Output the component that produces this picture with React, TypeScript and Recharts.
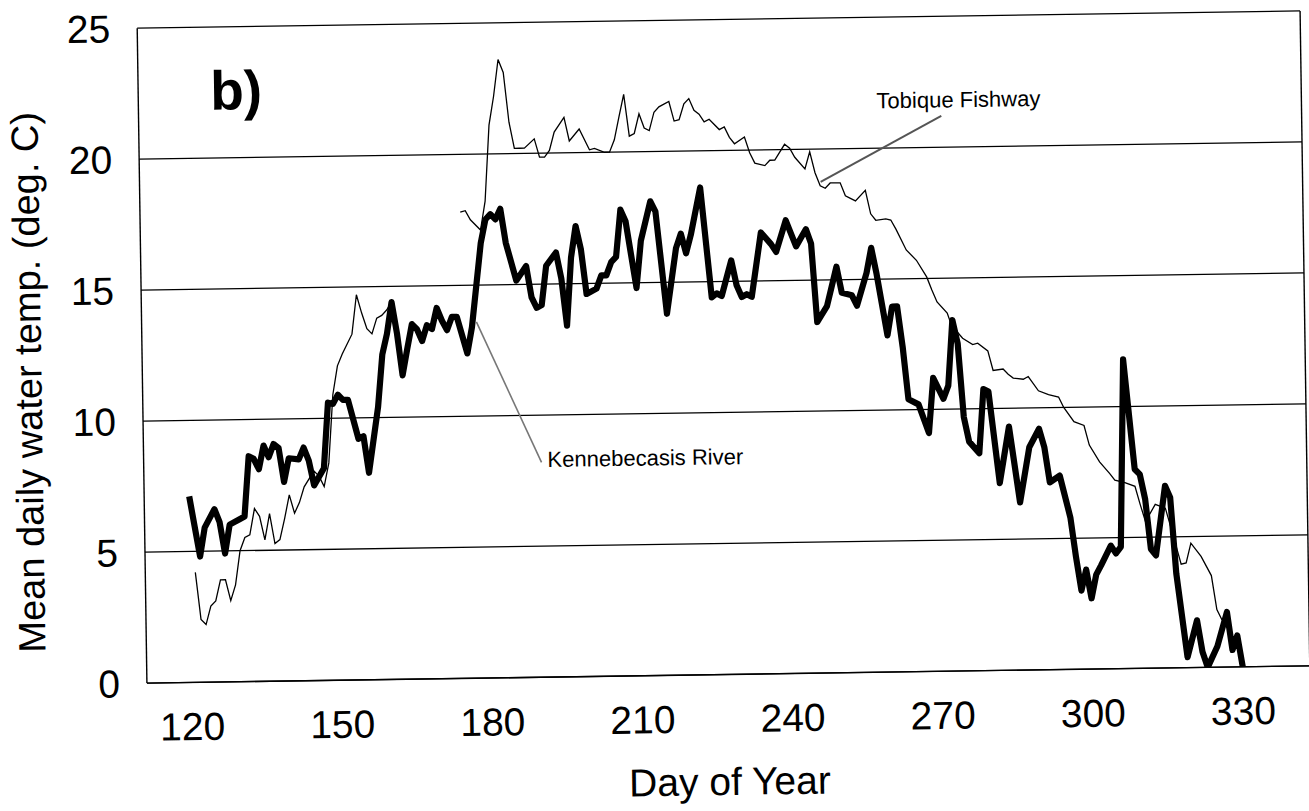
import React from 'react';
import {
  LineChart,
  Line,
  XAxis,
  YAxis,
  CartesianGrid,
  ReferenceLine,
  ReferenceDot,
  Label,
} from 'recharts';

// Kennebecasis River: mean daily water temperature (deg. C) by day of year
const kennebecasisDays = [
  120, 122, 123, 125, 126, 127, 128, 130, 131, 132, 133, 134, 135, 136, 137, 138, 139, 140, 142, 143,
  144, 145, 147, 148, 149, 150, 151, 152, 154, 155, 156, 158, 159, 160, 161, 162, 163, 164, 165, 166,
  167, 168, 169, 170, 171, 172, 173, 174, 176, 177, 178, 179, 180, 181, 182, 183, 184, 186, 188, 189,
  190, 191, 192, 194, 195, 196, 197, 198, 199, 200, 202, 203, 204, 205, 206, 207, 208, 210, 211, 213,
  214, 216, 218, 219, 220, 221, 223, 225, 226, 227, 229, 230, 231, 232, 233, 235, 237, 238, 240, 242,
  244, 245, 246, 248, 250, 251, 253, 254, 256, 257, 258, 260, 261, 262, 263, 264, 266, 268, 269, 271,
  272, 273, 274, 275, 276, 278, 279, 280, 282, 284, 286, 288, 290, 291, 292, 294, 296, 297, 298, 299,
  300, 301, 302, 304, 305, 306, 307, 309, 310, 311, 312, 313, 315, 316, 317, 319, 321, 322, 323, 325,
  327, 328, 329, 330,
];
const kennebecasisTemps = [
  7.1, 4.8, 5.9, 6.6, 6.1, 4.9, 6.0, 6.2, 6.3, 8.6, 8.5, 8.1, 9.0, 8.55, 9.05, 8.9, 7.6, 8.5, 8.45, 8.9,
  8.4, 7.45, 8.1, 10.6, 10.55, 10.9, 10.7, 10.7, 9.2, 9.3, 7.9, 10.4, 12.4, 13.2, 14.4, 13.2, 11.6, 12.6, 13.55, 13.35,
  12.9, 13.5, 13.35, 14.15, 13.67, 13.3, 13.8, 13.8, 12.4, 13.4, 15.0, 16.6, 17.5, 17.7, 17.5, 17.9, 16.6, 15.15, 15.7, 14.5,
  14.1, 14.2, 15.7, 16.2, 15.2, 13.4, 16.0, 17.2, 16.3, 14.6, 14.8, 15.3, 15.3, 15.8, 16.0, 17.8, 17.35, 14.8, 16.6, 18.1,
  17.7, 13.8, 16.3, 16.85, 16.1, 16.8, 18.6, 14.4, 14.55, 14.45, 15.8, 14.85, 14.4, 14.5, 14.4, 16.85, 16.4, 16.1, 17.3, 16.3,
  16.95, 16.4, 13.4, 14.0, 15.5, 14.5, 14.4, 14.0, 15.25, 16.2, 15.2, 12.85, 13.95, 13.95, 12.4, 10.4, 10.2, 9.1, 11.2, 10.4,
  10.9, 13.4, 12.5, 9.7, 8.75, 8.3, 10.75, 10.65, 7.15, 9.3, 6.4, 8.5, 9.2, 8.5, 7.15, 7.4, 5.8, 4.3, 3.0, 3.8,
  2.7, 3.6, 3.95, 4.7, 4.4, 4.65, 11.8, 7.6, 7.4, 6.45, 4.55, 4.3, 6.95, 6.5, 3.6, 0.4, 1.8, 0.6, 0, 0.8,
  2.1, 0.65, 1.2, 0,
];

// Tobique Fishway: mean daily water temperature (deg. C); null marks the gap in the record
const tobiqueDays = [
  121, 122, 123, 124, 125, 126, 127, 128, 129, 130, 131, 132, 133, 134, 135, 136, 137, 138, 139, 140,
  141, 142, 143, 144, 145, 146, 147, 148, 149, 150, 151, 153, 154, 155, 156, 157, 158, 159, 160, 161,
  168, 175, 176, 177, 179, 180, 181, 182, 183, 184, 185, 186, 187, 188, 190, 191, 192, 193, 194, 196,
  197, 199, 201, 202, 204, 205, 206, 207, 208, 209, 210, 211, 212, 213, 214, 215, 217, 218, 219, 220,
  221, 222, 223, 224, 225, 227, 228, 229, 230, 232, 233, 234, 236, 237, 238, 240, 241, 242, 244, 245,
  246, 247, 248, 249, 251, 252, 253, 254, 256, 257, 258, 260, 261, 262, 264, 266, 268, 269, 270, 272,
  273, 274, 275, 277, 278, 280, 281, 283, 284, 285, 287, 288, 290, 292, 294, 295, 297, 299, 300, 302,
  304, 305, 307, 309, 310, 311, 313, 315, 316, 318, 319, 320, 322, 324, 325, 326,
];
const tobiqueTemps = [
  4.2, 2.4, 2.2, 2.9, 3.1, 3.9, 3.9, 3.1, 3.7, 5.0, 5.5, 5.6, 6.6, 6.3, 5.4, 6.4, 5.25, 5.4, 6.2, 7.1,
  6.4, 6.8, 7.4, 7.7, 8.0, 7.8, 7.4, 8.3, 10.9, 12.0, 12.45, 13.2, 14.7, 14.0, 13.4, 13.2, 13.8, 13.9, 14.1, 14.4,
  null, 17.8, 17.85, 17.5, 17.1, 18.2, 21.1, 22.2, 23.6, 23.1, 21.2, 20.2, 20.2, 20.2, 20.55, 19.85, 19.85, 20.1, 20.8, 21.35,
  20.45, 20.9, 20.1, 20.15, 20.0, 20.0, 20.47, 21.35, 22.2, 20.6, 20.7, 21.45, 20.9, 20.8, 21.5, 21.7, 21.9, 21.15, 21.2, 21.8,
  22.0, 21.55, 21.4, 21.1, 21.2, 20.8, 20.9, 20.5, 20.25, 20.5, 19.9, 19.5, 19.4, 19.6, 19.6, 20.2, 20.05, 19.7, 19.25, 19.9,
  19.1, 18.6, 18.5, 18.7, 18.7, 18.2, 18.1, 18.0, 18.4, 17.5, 17.25, 17.3, 17.25, 16.9, 16.1, 15.7, 15.06, 14.56, 14.1, 13.67,
  13.1, 12.93, 12.7, 12.45, 12.5, 12.2, 11.45, 11.5, 11.3, 11.15, 11.1, 11.2, 10.65, 10.5, 10.4, 10.0, 9.45, 9.3, 8.55, 7.9,
  7.45, 7.2, 7.1, 6.95, 6.25, 5.6, 6.25, 6.1, 5.4, 3.95, 4.0, 4.75, 4.24, 3.5, 2.2, 1.8,
];

const dayTicks = [120, 150, 180, 210, 240, 270, 300, 330];
const tempTicks = [0, 5, 10, 15, 20, 25];
const dayDomain = [111, 343.4];
const tempDomain = [0, 25];

const kennebecasis = kennebecasisDays.map((day, i) => ({ day, temp: kennebecasisTemps[i] }));
const tobique = tobiqueDays.map((day, i) => ({ day, temp: tobiqueTemps[i] }));

const FONT = '"Liberation Sans", Arial, Helvetica, sans-serif';
const INK = '#000';

const XTitle = (props: any) => {
  const { viewBox } = props;
  return (
    <text
      x={viewBox.x + viewBox.width / 2}
      y={viewBox.y + 120.5}
      textAnchor="middle"
      fontFamily={FONT}
      fontSize={39}
      fill={INK}
    >
      Day of Year
    </text>
  );
};

const YTitle = (props: any) => {
  const { viewBox } = props;
  const cx = 41;
  const cy = viewBox.y + viewBox.height / 2 + 25;
  return (
    <text
      x={cx}
      y={cy}
      transform={`rotate(-90 ${cx} ${cy})`}
      textAnchor="middle"
      fontFamily={FONT}
      fontSize={38}
      fill={INK}
    >
      Mean daily water temp. (deg. C)
    </text>
  );
};

// text placed with its left baseline at the data point
const note = (text: string, size: number, weight: string | number = 'normal') => (p: any) => (
  <text x={p.cx} y={p.cy} fontFamily={FONT} fontSize={size} fontWeight={weight} fill={INK}>
    {text}
  </text>
);

export default function App() {
  return (
    <div
      style={{
        position: 'absolute',
        left: 0,
        top: 0,
        width: 1309,
        height: 811,
        overflow: 'hidden',
        background: '#fff',
      }}
    >
      <div style={{ transform: 'rotate(-0.85deg)', transformOrigin: '723px 347px' }}>
        <LineChart
          width={1309}
          height={811}
          margin={{ top: 19.5, right: 4, bottom: 96.5, left: 0 }}
        >
          <CartesianGrid horizontal vertical={false} stroke={INK} strokeWidth={1.3} />
          <XAxis
            type="number"
            dataKey="day"
            domain={dayDomain}
            allowDataOverflow
            ticks={dayTicks}
            interval={0}
            height={40}
            tickLine={false}
            tickSize={0}
            tickMargin={30}
            axisLine={{ stroke: INK, strokeWidth: 1.4 }}
            tick={{ fill: INK, fontSize: 39, fontFamily: FONT }}
          >
            <Label content={XTitle} />
          </XAxis>
          <YAxis
            type="number"
            domain={tempDomain}
            allowDataOverflow
            ticks={tempTicks}
            interval={0}
            width={142}
            tickLine={false}
            tickSize={0}
            tickMargin={27}
            axisLine={{ stroke: INK, strokeWidth: 1.4 }}
            tick={{ fill: INK, fontSize: 39, fontFamily: FONT }}
          >
            <Label content={YTitle} />
          </YAxis>
          <ReferenceLine x={dayDomain[1]} stroke={INK} strokeWidth={1.4} />

          <Line
            data={tobique}
            dataKey="temp"
            name="Tobique Fishway"
            type="linear"
            stroke={INK}
            strokeWidth={1.3}
            dot={false}
            connectNulls={false}
            isAnimationActive={false}
          />
          <Line
            data={kennebecasis}
            dataKey="temp"
            name="Kennebecasis River"
            type="linear"
            stroke={INK}
            strokeWidth={6.2}
            strokeLinejoin="round"
            dot={false}
            isAnimationActive={false}
          />

          <ReferenceLine
            segment={[{ x: 247.1, y: 18.75 }, { x: 271.4, y: 21.2 }]}
            stroke="#555"
            strokeWidth={2}
          />
          <ReferenceLine
            segment={[{ x: 177.9, y: 13.6 }, { x: 190.5, y: 8.2 }]}
            stroke="#777"
            strokeWidth={1.6}
          />
          <ReferenceDot x={125.4} y={21.84} r={0} shape={note('b)', 55, 'bold')} />
          <ReferenceDot x={258.5} y={21.52} r={0} shape={note('Tobique Fishway', 22)} />
          <ReferenceDot x={191.7} y={8.02} r={0} shape={note('Kennebecasis River', 22)} />
        </LineChart>
      </div>
    </div>
  );
}
